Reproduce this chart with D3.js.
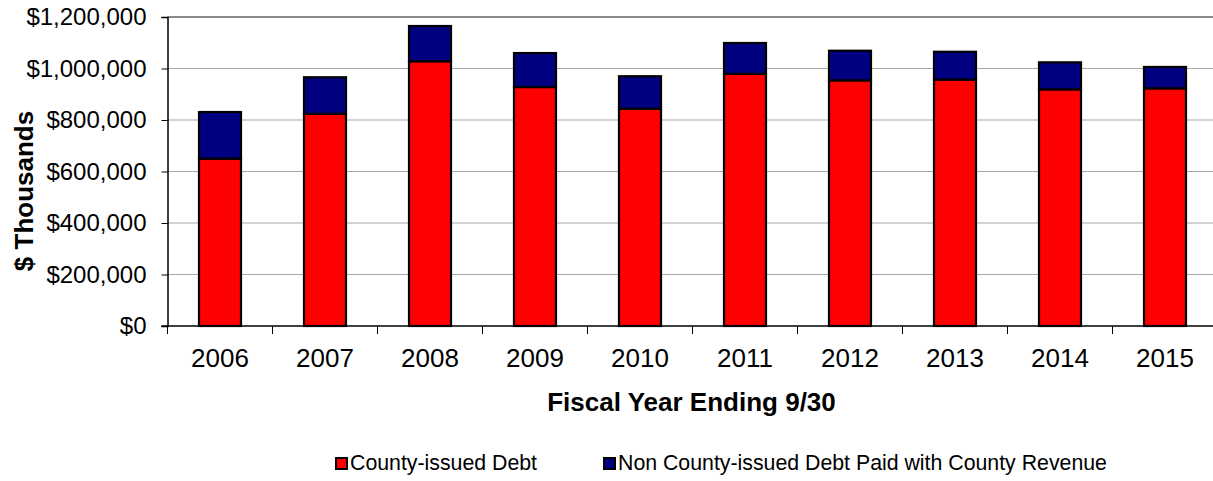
<!DOCTYPE html>
<html>
<head>
<meta charset="utf-8">
<script src="https://cdn.jsdelivr.net/npm/d3@7/dist/d3.min.js"></script>
<style>
  html, body { margin: 0; padding: 0; background: #fff; }
  svg { display: block; font-family: "Liberation Sans", Arial, sans-serif; }
</style>
</head>
<body>
<svg id="chart" width="1213" height="481"></svg>
<script>
// Fiscal years shown on the x axis
const years = ["2006", "2007", "2008", "2009", "2010", "2011", "2012", "2013", "2014", "2015"];
// County-issued debt, $ thousands
const countyDebt = [650000, 824000, 1028000, 928000, 844000, 979000, 954000, 957000, 919000, 923000];
// Non county-issued debt paid with county revenue, $ thousands
const nonCountyDebt = [181000, 142000, 137000, 132000, 126000, 120000, 115000, 108000, 105000, 83000];
// Y axis ticks
const yTicks = [0, 200000, 400000, 600000, 800000, 1000000, 1200000];
const seriesNames = ["County-issued Debt", "Non County-issued Debt Paid with County Revenue"];
const seriesColors = ["#FF0000", "#000080"];

const svg = d3.select("#chart");
const margin = { left: 167.5, top: 17, bottom: 326 };
const plotW = 1050;

const x = d3.scaleBand().domain(years).range([margin.left, margin.left + plotW]).padding(0);
const y = d3.scaleLinear().domain([0, 1200000]).range([margin.bottom, margin.top]);
const barW = x.bandwidth() * 0.4;

// Gridlines
svg.append("g")
  .selectAll("line")
  .data(yTicks.filter(d => d > 0 && d < 1200000))
  .join("line")
  .attr("x1", margin.left).attr("x2", margin.left + plotW)
  .attr("y1", d => y(d)).attr("y2", d => y(d))
  .attr("stroke", "#a8a8a8").attr("stroke-width", 1.2);

// Plot top border
svg.append("line")
  .attr("x1", margin.left).attr("x2", margin.left + plotW)
  .attr("y1", y(1200000)).attr("y2", y(1200000))
  .attr("stroke", "#8a8a8a").attr("stroke-width", 2);

// Stacked bars
const stackData = years.map((yr, i) => ({ year: yr, county: countyDebt[i], non: nonCountyDebt[i] }));
const stack = d3.stack().keys(["county", "non"])(stackData);

svg.append("g")
  .selectAll("g")
  .data(stack)
  .join("g")
  .attr("fill", (d, i) => seriesColors[i])
  .selectAll("rect")
  .data(d => d)
  .join("rect")
  .attr("x", d => x(d.data.year) + (x.bandwidth() - barW) / 2)
  .attr("width", barW)
  .attr("y", d => y(d[1]))
  .attr("height", d => y(d[0]) - y(d[1]))
  .attr("stroke", "#000")
  .attr("stroke-width", 2.2);

// Y axis
const yAxis = svg.append("g")
  .attr("transform", `translate(${margin.left},0)`)
  .call(d3.axisLeft(y).tickValues(yTicks).tickSize(6).tickPadding(15)
    .tickFormat(d => "$" + d3.format(",")(d)));
yAxis.select(".domain").attr("stroke", "#000").attr("stroke-width", 1.5);
yAxis.selectAll(".tick line").attr("stroke", "#000");
yAxis.selectAll("text").attr("font-size", 24).attr("fill", "#000")
  .attr("font-family", "Liberation Sans, Arial, sans-serif");

// X axis: ticks at category boundaries
const xAxisG = svg.append("g").attr("transform", `translate(0,${margin.bottom})`);
xAxisG.append("line")
  .attr("x1", margin.left - 6).attr("x2", margin.left + plotW)
  .attr("stroke", "#000").attr("stroke-width", 1.5);
xAxisG.selectAll("line.tick")
  .data(years.concat(["end"]))
  .join("line")
  .attr("class", "tick")
  .attr("x1", (d, i) => margin.left + i * x.step())
  .attr("x2", (d, i) => margin.left + i * x.step())
  .attr("y1", 0).attr("y2", 8)
  .attr("stroke", "#000").attr("stroke-width", 1);
xAxisG.selectAll("text")
  .data(years)
  .join("text")
  .attr("x", d => x(d) + x.bandwidth() / 2)
  .attr("y", 41)
  .attr("text-anchor", "middle")
  .attr("font-size", 26)
  .text(d => d);

// Axis titles
svg.append("text")
  .attr("x", margin.left + plotW / 2 - 1)
  .attr("y", 411)
  .attr("text-anchor", "middle")
  .attr("font-size", 26)
  .attr("font-weight", "bold")
  .text("Fiscal Year Ending 9/30");

svg.append("text")
  .attr("transform", "translate(33,191) rotate(-90)")
  .attr("text-anchor", "middle")
  .attr("font-size", 26)
  .attr("font-weight", "bold")
  .text("$ Thousands");

// Legend
const legendX = [335, 603];
const legend = svg.append("g");
seriesNames.forEach((name, i) => {
  legend.append("rect")
    .attr("x", legendX[i] + 1).attr("y", 458)
    .attr("width", 11).attr("height", 11)
    .attr("fill", seriesColors[i])
    .attr("stroke", "#000").attr("stroke-width", 2);
  legend.append("text")
    .attr("x", legendX[i] + 15)
    .attr("y", 470)
    .attr("font-size", 21.3)
    .text(name);
});
</script>
</body>
</html>
